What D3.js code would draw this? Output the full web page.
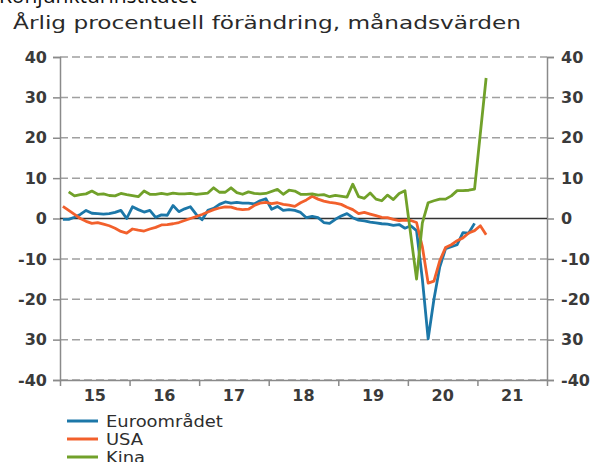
<!DOCTYPE html>
<html>
<head>
<meta charset="utf-8">
<title>Årlig procentuell förändring</title>
<script src="https://cdnjs.cloudflare.com/ajax/libs/d3/7.8.5/d3.min.js"></script>
<style>
    html, body { margin: 0; padding: 0; background: #fff; }
    svg { display: block; }
    text { font-family: "DejaVu Sans", Verdana, sans-serif; fill: #2e2e2e; }
</style>
</head>
<body>
<svg class="main" width="594" height="462"></svg>
<script>
    // månadsdata, index 0 = jan 2015
    var euro = [-0.2, -0.2, 0.3, 1.0, 2.0, 1.3, 1.2, 1.1, 1.2, 1.5, 2.0, 0.0,
        2.9, 2.2, 1.6, 2.0, 0.3, 0.9, 0.8, 3.2, 1.7, 2.4, 2.9, 1.0,
        -0.3, 2.0, 2.5, 3.5, 4.1, 3.8, 4.0, 3.8, 3.8, 3.6, 4.4, 4.9,
        2.3, 3.0, 2.0, 2.2, 2.0, 1.5, 0.2, 0.5, 0.2, -1.0, -1.2, -0.2,
        0.6, 1.2, 0.2, -0.4, -0.6, -0.9, -1.1, -1.3, -1.4, -1.7, -1.5, -2.4,
        -1.8, -3.0, -15.0, -29.8, -20.0, -12.0, -7.5, -7.0, -6.5, -3.5, -3.6, -1.2];
    var usa = [3.0, 2.0, 1.0, 0.0, -0.7, -1.2, -1.0, -1.4, -1.8, -2.4, -3.2, -3.6,
        -2.6, -2.9, -3.1, -2.6, -2.2, -1.6, -1.5, -1.3, -1.0, -0.5, 0.0, 0.5,
        1.0, 1.6, 2.2, 2.6, 2.9, 2.8, 2.4, 2.2, 2.3, 3.2, 3.8, 4.0,
        3.7, 3.9, 3.5, 3.3, 3.0, 3.9, 4.6, 5.5, 4.8, 4.3, 4.0, 3.8,
        3.5, 2.8, 2.2, 1.2, 1.5, 1.1, 0.7, 0.3, 0.2, -0.2, -0.5, -0.4,
        -0.5, -1.0, -7.0, -16.0, -15.5, -10.5, -7.2, -6.5, -5.5, -4.8, -3.6, -3.0,
        -1.8, -4.0];
    // Kina: jan saknas (jan-feb redovisas i feb)
    var kina = [null, 6.6, 5.6, 5.9, 6.1, 6.8, 6.0, 6.1, 5.7, 5.6, 6.2, 5.9,
        null, 5.4, 6.8, 6.0, 6.0, 6.2, 6.0, 6.3, 6.1, 6.1, 6.2, 6.0,
        null, 6.3, 7.6, 6.5, 6.5, 7.6, 6.4, 6.0, 6.6, 6.2, 6.1, 6.2,
        null, 7.2, 6.0, 7.0, 6.8, 6.0, 6.0, 6.1, 5.8, 5.9, 5.4, 5.7,
        null, 5.3, 8.5, 5.4, 5.0, 6.3, 4.8, 4.4, 5.8, 4.7, 6.2, 6.9,
        null, -15.0, -1.1, 3.9, 4.4, 4.8, 4.8, 5.6, 6.9, 6.9, 7.0, 7.3,
        null, 34.8];

    var seriesNames = ["Euroområdet", "USA", "Kina"];
    var seriesColors = ["#1c77a8", "#f2602c", "#71a12a"];
    var yearLabels = ["15", "16", "17", "18", "19", "20", "21"];
    var yTicks = [-40, -30, -20, -10, 0, 10, 20, 30, 40];
    var yTickLabels = ["-40", "30", "-20", "-10", "0", "10", "20", "30", "40"];

    var svg = d3.select("svg");

    var mLeft = 60, mRight = 547, mTop = 57, mBottom = 380;

    var x = d3.scaleLinear().domain([2015, 2022]).range([mLeft, mRight]);
    var y = d3.scaleLinear().domain([-40, 40]).range([mBottom, mTop]);

    function monthPos(i) { return 2015 + (i + 0.5) / 12; }

    // texten i referensen är något utdragen på bredden
    function stretch(sel, k) {
        sel.each(function () {
            var w = this.getComputedTextLength();
            d3.select(this).attr("textLength", w * k).attr("lengthAdjust", "spacingAndGlyphs");
        });
    }

    // rubriker
    svg.append("text")
        .attr("x", -1).attr("y", 3)
        .style("font-family", "'Open Sans', 'Liberation Sans', sans-serif")
        .style("font-size", "21px")
        .style("fill", "#111")
        .text("Konjunkturinstitutet");

    svg.append("text")
        .attr("x", 13).attr("y", 29)
        .style("font-size", "18px")
        .style("fill", "#2a2a2a")
        .attr("textLength", 508)
        .attr("lengthAdjust", "spacingAndGlyphs")
        .text("Årlig procentuell förändring, månadsvärden");

    // stödlinjer
    var grid = svg.append("g");
    grid.selectAll("line")
        .data(yTicks.filter(function (d) { return d !== 0; }))
        .enter().append("line")
        .attr("x1", mLeft).attr("x2", mRight)
        .attr("y1", function (d) { return y(d); })
        .attr("y2", function (d) { return y(d); })
        .attr("stroke", "#a0a0a0")
        .attr("stroke-width", 1.5)
        .attr("stroke-dasharray", "8,4");

    // axlar
    var fmt = function (d) { return yTickLabels[yTicks.indexOf(d)]; };

    var yLeft = svg.append("g")
        .attr("transform", "translate(" + mLeft + ",0)")
        .call(d3.axisLeft(y).tickValues(yTicks).tickFormat(fmt).tickSize(7).tickPadding(6));
    var yRight = svg.append("g")
        .attr("transform", "translate(" + mRight + ",0)")
        .call(d3.axisRight(y).tickValues(yTicks).tickFormat(fmt).tickSize(7).tickPadding(7));
    var xAxis = svg.append("g")
        .attr("transform", "translate(0," + mBottom + ")")
        .call(d3.axisBottom(x).tickValues(d3.range(2015, 2023)).tickFormat("").tickSize(6).tickSizeOuter(0));

    [yLeft, yRight, xAxis].forEach(function (g) {
        g.select(".domain").attr("stroke", "#8a8a8a").attr("stroke-width", 1.5);
        g.selectAll(".tick line").attr("stroke", "#8a8a8a").attr("stroke-width", 1.5);
        g.selectAll(".tick text")
            .style("font-family", "'DejaVu Sans', Verdana, sans-serif")
            .style("font-size", "16px")
            .style("font-weight", "bold")
            .style("fill", "#3a3a3a");
    });

    var years = svg.append("g").selectAll("text")
        .data(yearLabels)
        .enter().append("text")
        .attr("x", function (d, i) { return x(2015.5 + i); })
        .attr("y", 401)
        .attr("text-anchor", "middle")
        .style("font-size", "16px")
        .style("font-weight", "bold")
        .style("fill", "#3a3a3a")
        .text(function (d) { return d; });

    // nollinje
    svg.append("line")
        .attr("x1", mLeft).attr("x2", mRight)
        .attr("y1", y(0)).attr("y2", y(0))
        .attr("stroke", "#333")
        .attr("stroke-width", 1.5);

    // serier
    var line = d3.line()
        .x(function (d) { return x(monthPos(d.i)); })
        .y(function (d) { return y(d.v); });

    function toPoints(arr) {
        return arr.map(function (v, i) { return { i: i, v: v }; })
            .filter(function (d) { return d.v !== null; });
    }

    var allSeries = [euro, usa, kina];
    svg.append("g").selectAll("path")
        .data(allSeries)
        .enter().append("path")
        .attr("fill", "none")
        .attr("stroke", function (d, i) { return seriesColors[i]; })
        .attr("stroke-width", 2.8)
        .attr("stroke-linejoin", "round")
        .attr("d", function (d) { return line(toPoints(d)); });

    // förklaring
    var legend = svg.append("g").selectAll("g")
        .data(seriesNames)
        .enter().append("g")
        .attr("transform", function (d, i) { return "translate(67," + (421 + i * 18) + ")"; });
    legend.append("line")
        .attr("x1", 0).attr("x2", 31)
        .attr("stroke", function (d, i) { return seriesColors[i]; })
        .attr("stroke-width", 3);
    var legendText = legend.append("text")
        .attr("x", 39).attr("y", 5.5)
        .style("font-size", "16px")
        .style("fill", "#2e2e2e")
        .text(function (d) { return d; });

    stretch(legendText, 1.12);
</script>
</body>
</html>
